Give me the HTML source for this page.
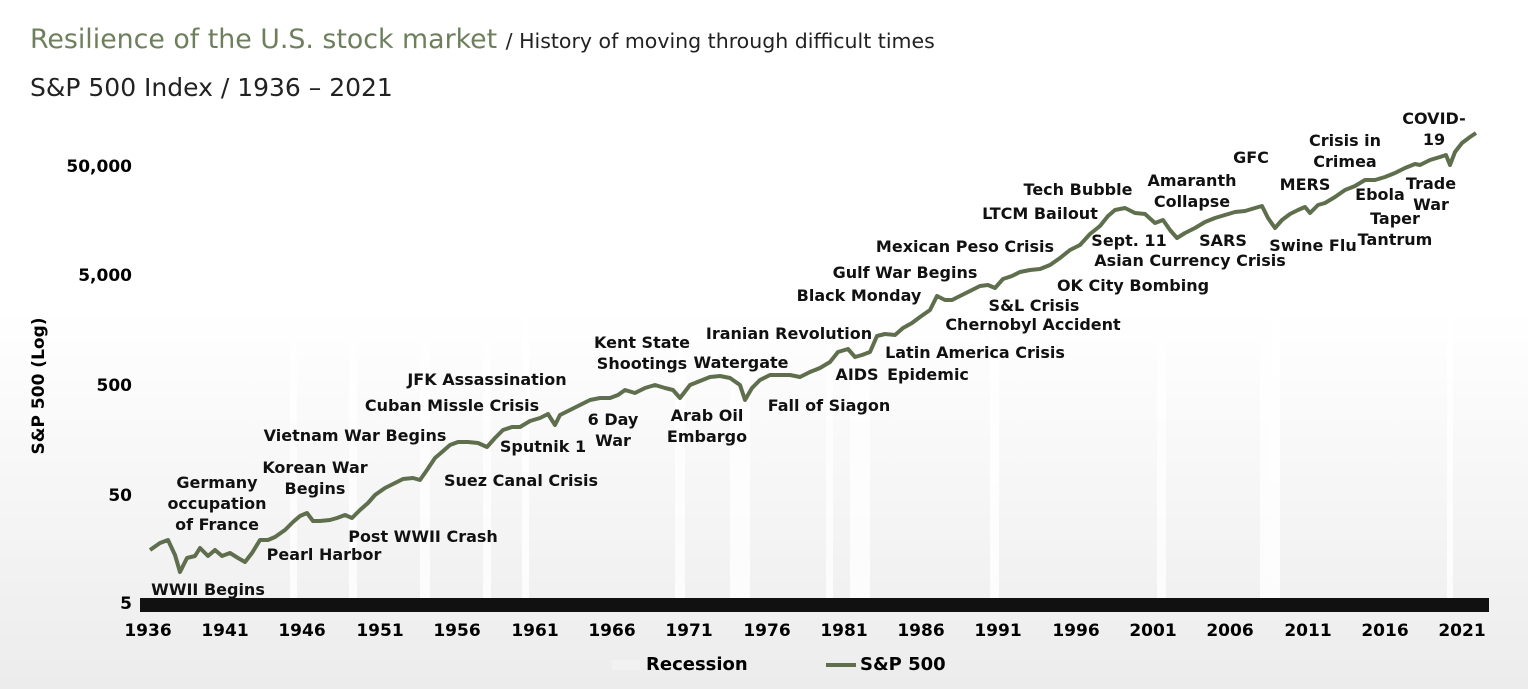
<!DOCTYPE html>
<html><head><meta charset="utf-8"><style>
body{margin:0;width:1528px;height:689px;overflow:hidden;font-family:"DejaVu Sans","Liberation Sans",sans-serif;background:linear-gradient(#fff 0%,#fff 45%,#ececec 100%);position:relative}
.t{position:absolute;font-weight:bold;font-size:16px;color:#111;text-align:center;line-height:21px;white-space:nowrap;transform:translateX(-50%)}
.y{position:absolute;font-weight:bold;font-size:17px;right:1396px;transform:translateY(-50%)}
.x{position:absolute;top:621px;font-weight:bold;font-size:17px;transform:translateX(-50%)}
</style></head><body>
<div style="position:absolute;left:30px;top:24px;font-size:26.8px;color:#6e7f5c">Resilience of the U.S. stock market <span style="font-size:20.5px;color:#222">/ History of moving through difficult times</span></div>
<div style="position:absolute;left:30px;top:73px;font-size:25px;color:#222">S&amp;P 500 Index / 1936 – 2021</div>
<div style="position:absolute;left:28px;top:386px;font-weight:bold;font-size:17px;transform:translate(-42%,-50%) rotate(-90deg);transform-origin:center;white-space:nowrap">S&amp;P 500 (Log)</div>
<div class="y" style="top:167px">50,000</div><div class="y" style="top:276px">5,000</div><div class="y" style="top:386px">500</div><div class="y" style="top:496px">50</div><div class="y" style="top:604px">5</div>
<svg width="1528" height="689" style="position:absolute;left:0;top:0">
<g fill="#fff" opacity="0.8">
<rect x="290" y="150" width="7" height="448"/><rect x="349" y="150" width="8" height="448"/><rect x="420" y="150" width="10" height="448"/><rect x="483" y="150" width="8" height="448"/><rect x="522" y="150" width="7" height="448"/><rect x="675" y="150" width="10" height="448"/><rect x="730" y="150" width="20" height="448"/><rect x="826" y="150" width="7" height="448"/><rect x="850" y="150" width="20" height="448"/><rect x="990" y="150" width="9" height="448"/><rect x="1157" y="150" width="9" height="448"/><rect x="1260" y="150" width="20" height="448"/><rect x="1447" y="150" width="6" height="448"/>
</g>
<rect x="140" y="598" width="1349" height="14" fill="#111"/>
<polyline fill="none" stroke="#5f6f4e" stroke-width="4" stroke-linejoin="round" points="150,550 160,543 168,540 175,555 180,572 187,558 195,556 200,548 208,556 215,550 222,556 230,553 238,558 245,562 252,553 260,540 268,540 275,537 285,530 293,522 300,516 307,513 313,521 320,521 330,520 337,518 345,515 352,518 360,510 368,503 375,495 385,488 395,483 403,479 413,478 420,480 427,470 435,458 442,452 450,445 458,442 468,442 478,443 487,447 495,438 503,430 512,427 520,427 530,421 540,418 548,414 555,425 560,415 570,410 580,405 590,400 600,398 610,398 618,395 625,390 635,393 645,388 655,385 665,388 673,390 680,398 690,385 700,381 710,377 720,376 730,378 740,385 745,400 752,388 760,380 770,375 780,375 790,375 800,377 810,372 820,368 830,362 838,352 848,349 855,357 862,355 870,352 877,336 885,334 895,335 903,328 912,323 920,317 930,310 937,296 945,300 952,300 960,296 970,291 980,286 988,285 995,288 1003,279 1012,276 1020,272 1030,270 1040,269 1050,265 1060,258 1070,250 1080,245 1090,234 1100,226 1108,216 1115,210 1125,208 1135,213 1145,214 1155,223 1163,220 1170,230 1177,238 1185,233 1195,228 1205,222 1215,218 1225,215 1235,212 1245,211 1255,208 1262,206 1268,218 1275,228 1282,220 1290,214 1298,210 1305,207 1310,213 1318,205 1325,203 1335,197 1345,190 1355,186 1365,180 1375,180 1385,177 1395,173 1405,168 1415,164 1420,165 1430,160 1440,157 1446,155 1450,165 1455,152 1462,143 1470,137 1476,133"/>
<rect x="612" y="660" width="28" height="10" fill="#f2f2f2"/>
<line x1="826" y1="665" x2="856" y2="665" stroke="#5f6f4e" stroke-width="4"/>
</svg>
<div style="position:absolute;left:646px;top:654px;font-weight:bold;font-size:18px">Recession</div>
<div style="position:absolute;left:860px;top:654px;font-weight:bold;font-size:18px">S&amp;P 500</div>
<div class="x" style="left:148px">1936</div><div class="x" style="left:225px">1941</div><div class="x" style="left:302px">1946</div><div class="x" style="left:380px">1951</div><div class="x" style="left:457px">1956</div><div class="x" style="left:535px">1961</div><div class="x" style="left:612px">1966</div><div class="x" style="left:689px">1971</div><div class="x" style="left:767px">1976</div><div class="x" style="left:844px">1981</div><div class="x" style="left:921px">1986</div><div class="x" style="left:998px">1991</div><div class="x" style="left:1076px">1996</div><div class="x" style="left:1153px">2001</div><div class="x" style="left:1230px">2006</div><div class="x" style="left:1308px">2011</div><div class="x" style="left:1385px">2016</div><div class="x" style="left:1462px">2021</div>
<div class="t" style="left:208px;top:579px">WWII Begins</div>
<div class="t" style="left:217px;top:472px">Germany<br>occupation<br>of France</div>
<div class="t" style="left:324px;top:544px">Pearl Harbor</div>
<div class="t" style="left:423px;top:526px">Post WWII Crash</div>
<div class="t" style="left:315px;top:457px">Korean War<br>Begins</div>
<div class="t" style="left:355px;top:425px">Vietnam War Begins</div>
<div class="t" style="left:521px;top:470px">Suez Canal Crisis</div>
<div class="t" style="left:543px;top:436px">Sputnik 1</div>
<div class="t" style="left:452px;top:395px">Cuban Missle Crisis</div>
<div class="t" style="left:487px;top:369px">JFK Assassination</div>
<div class="t" style="left:613px;top:409px">6 Day<br>War</div>
<div class="t" style="left:642px;top:332px">Kent State<br>Shootings</div>
<div class="t" style="left:707px;top:405px">Arab Oil<br>Embargo</div>
<div class="t" style="left:789px;top:323px">Iranian Revolution</div>
<div class="t" style="left:741px;top:352px">Watergate</div>
<div class="t" style="left:829px;top:395px">Fall of Siagon</div>
<div class="t" style="left:857px;top:364px">AIDS</div>
<div class="t" style="left:928px;top:364px">Epidemic</div>
<div class="t" style="left:975px;top:342px">Latin America Crisis</div>
<div class="t" style="left:859px;top:285px">Black Monday</div>
<div class="t" style="left:905px;top:262px">Gulf War Begins</div>
<div class="t" style="left:965px;top:236px">Mexican Peso Crisis</div>
<div class="t" style="left:1033px;top:314px">Chernobyl Accident</div>
<div class="t" style="left:1034px;top:295px">S&amp;L Crisis</div>
<div class="t" style="left:1133px;top:275px">OK City Bombing</div>
<div class="t" style="left:1040px;top:203px">LTCM Bailout</div>
<div class="t" style="left:1078px;top:179px">Tech Bubble</div>
<div class="t" style="left:1129px;top:230px">Sept. 11</div>
<div class="t" style="left:1190px;top:250px">Asian Currency Crisis</div>
<div class="t" style="left:1192px;top:170px">Amaranth<br>Collapse</div>
<div class="t" style="left:1223px;top:230px">SARS</div>
<div class="t" style="left:1251px;top:147px">GFC</div>
<div class="t" style="left:1313px;top:235px">Swine Flu</div>
<div class="t" style="left:1305px;top:174px">MERS</div>
<div class="t" style="left:1345px;top:130px">Crisis in<br>Crimea</div>
<div class="t" style="left:1380px;top:184px">Ebola</div>
<div class="t" style="left:1395px;top:208px">Taper<br>Tantrum</div>
<div class="t" style="left:1431px;top:173px">Trade<br>War</div>
<div class="t" style="left:1434px;top:108px">COVID-<br>19</div>
</body></html>
